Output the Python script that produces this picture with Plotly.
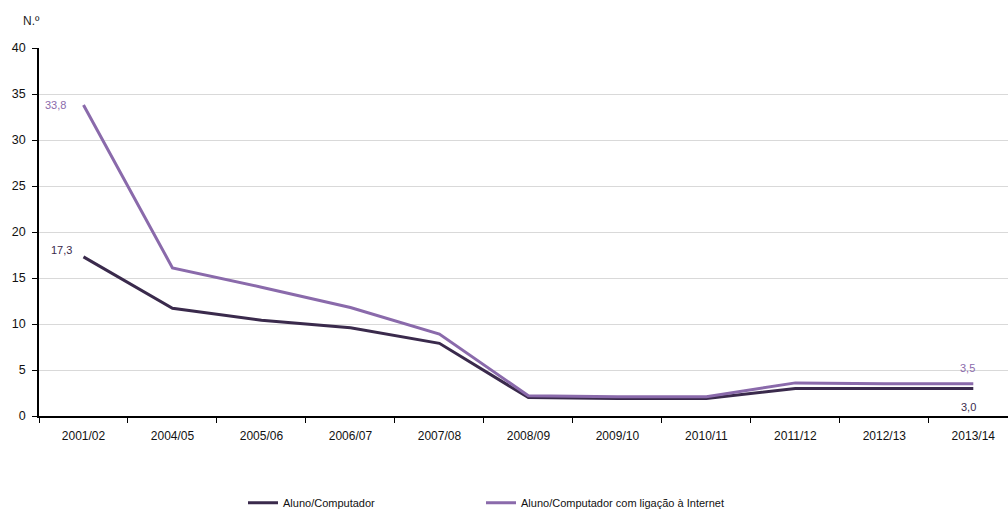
import plotly.graph_objects as go

# School years and pupils-per-computer ratios
anos = ["2001/02", "2004/05", "2005/06", "2006/07", "2007/08", "2008/09",
        "2009/10", "2010/11", "2011/12", "2012/13", "2013/14"]
aluno_computador = [17.3, 11.7, 10.4, 9.6, 7.9, 2.0, 1.9, 1.9, 3.0, 3.0, 3.0]
aluno_internet = [33.8, 16.1, 14.0, 11.8, 8.9, 2.2, 2.1, 2.1, 3.6, 3.5, 3.5]
y_ticks = [0, 5, 10, 15, 20, 25, 30, 35, 40]

cor_escura = "#3a2a4c"
cor_clara = "#8a6aab"
fonte = "Liberation Sans, Arial, sans-serif"

fig = go.Figure()
fig.add_trace(go.Scatter(
    x=anos, y=aluno_computador, mode="lines", name="Aluno/Computador",
    line=dict(color=cor_escura, width=3), legend="legend"))
fig.add_trace(go.Scatter(
    x=anos, y=aluno_internet, mode="lines",
    name="Aluno/Computador com ligação à Internet",
    line=dict(color=cor_clara, width=3), legend="legend2"))

def rotulo(v):
    return f"{v:.1f}".replace(".", ",")

# Value labels at first and last points
fig.add_annotation(x=anos[0], y=aluno_internet[0], text=rotulo(aluno_internet[0]),
                   showarrow=False, xshift=-28, yshift=0,
                   font=dict(color=cor_clara, size=11, family=fonte))
fig.add_annotation(x=anos[0], y=aluno_computador[0], text=rotulo(aluno_computador[0]),
                   showarrow=False, xshift=-22, yshift=7,
                   font=dict(color=cor_escura, size=11, family=fonte))
fig.add_annotation(x=anos[-1], y=aluno_internet[-1], text=rotulo(aluno_internet[-1]),
                   showarrow=False, xshift=-6, yshift=16,
                   font=dict(color=cor_clara, size=11, family=fonte))
fig.add_annotation(x=anos[-1], y=aluno_computador[-1], text=rotulo(aluno_computador[-1]),
                   showarrow=False, xshift=-5, yshift=-19,
                   font=dict(color=cor_escura, size=11, family=fonte))

fig.add_annotation(xref="paper", yref="paper", x=-0.019, y=1.048, text="N.º",
                   showarrow=False, xanchor="left", yanchor="bottom",
                   font=dict(color="#222", size=12, family=fonte))

legenda = dict(orientation="h", xref="paper", yref="container", y=0.016,
               xanchor="left", yanchor="middle", itemwidth=30,
               bgcolor="rgba(0,0,0,0)",
               font=dict(size=11, family=fonte, color="#111"))

fig.update_layout(
    width=1008, height=511,
    margin=dict(l=39, r=0, t=48, b=95),
    paper_bgcolor="white", plot_bgcolor="white",
    font=dict(family=fonte, size=12, color="#111"),
    showlegend=True,
    legend=dict(legenda, x=(243 - 39) / 969),
    legend2=dict(legenda, x=(481 - 39) / 969),
    xaxis=dict(
        type="category", range=[-0.5, 10.39],
        showline=True, linecolor="black", linewidth=1.5,
        ticks="outside", ticklen=5, tickcolor="black",
        tickson="boundaries", showgrid=False, ticklabelstandoff=8,
        tickfont=dict(size=12, color="#111")),
    yaxis=dict(
        range=[0, 40], tickvals=y_ticks, showgrid=True,
        gridcolor="#d9d9d9", gridwidth=1,
        showline=True, linecolor="black", linewidth=1.5,
        ticks="outside", ticklen=5, tickcolor="black", ticklabelstandoff=4,
        zeroline=False, tickfont=dict(size=12.5, color="#111")),
)

fig.write_html("out.html")
